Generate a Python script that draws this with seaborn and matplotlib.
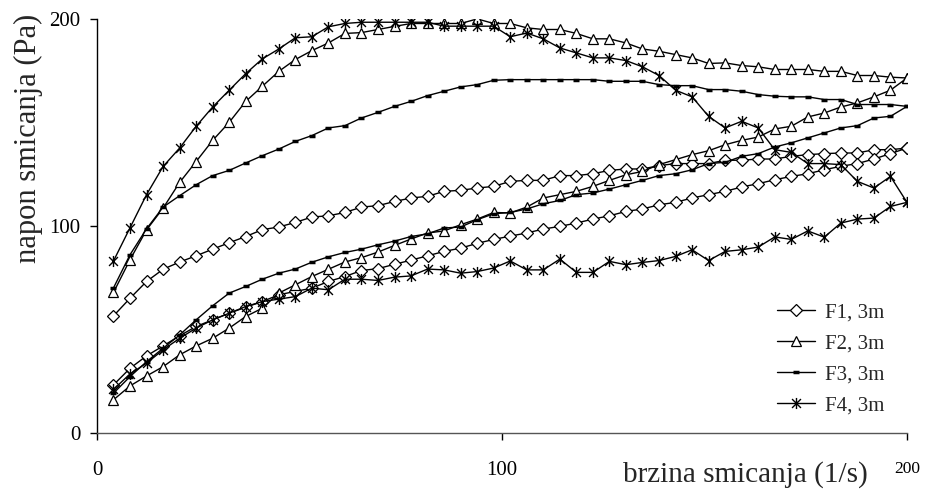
import pandas as pd
import matplotlib
matplotlib.use('Agg')
import matplotlib.pyplot as plt
from matplotlib.path import Path
import seaborn as sns

# shear rate steps of the rheometer (1/s)
shear_rate = [4.08, 8.16, 12.24, 16.33, 20.41, 24.49, 28.57, 32.65, 36.73, 40.82,
              44.90, 48.98, 53.06, 57.14, 61.22, 65.31, 69.39, 73.47, 77.55, 81.63,
              85.71, 89.80, 93.88, 97.96, 102.04, 106.12, 110.20, 114.29, 118.37, 122.45,
              126.53, 130.61, 134.69, 138.78, 142.86, 146.94, 151.02, 155.10, 159.18, 163.27,
              167.35, 171.43, 175.51, 179.59, 183.67, 187.76, 191.84, 195.92, 200.0]

# shear stress (Pa), upper branch and lower branch, both listed by increasing shear rate
f1_up = [56.5, 65, 73.1, 79, 82.5, 85.5, 88.7, 91.8, 94.8, 98.1,
         99.4, 101.6, 104.2, 104.8, 106.4, 109, 109.7, 111.7, 113.4, 114.2,
         116.6, 117.1, 118.2, 119, 121.4, 121.9, 121.9, 124.2, 124.2, 125.1,
         126.7, 127.4, 127.4, 129, 130, 130, 130, 131.6, 131.6, 132.2,
         132.2, 133.5, 134.3, 134.8, 135.1, 135.1, 136.7, 136.7, 137.5]
f1_down = [23.2, 31.2, 37.2, 42, 46.9, 51.4, 54.6, 57.8, 60.7, 63.4,
           66.7, 68.3, 69.9, 73.1, 75.5, 78.4, 79.3, 81.4, 83.4, 85.5,
           87.6, 89.2, 91.5, 93.4, 95, 96.5, 98.4, 99.7, 101.3, 103.2,
           104.8, 106.9, 108.1, 110.1, 111.3, 113.4, 115, 116.6, 118.7, 120.3,
           122.2, 123.8, 125.1, 127, 128.7, 130, 132.2, 134.8, 137.5]

f2_up = [67.8, 83.6, 98, 108.5, 120.9, 131, 141.2, 149.9, 160, 167.3,
         174.5, 180.2, 184.5, 188.2, 192.8, 193.2, 194.7, 196.2, 197.6, 197.6,
         197.6, 197.6, 199.8, 197.6, 197.6, 195.5, 194.7, 194.7, 192.8, 190.2,
         190.2, 188.2, 185.3, 184.2, 182.6, 181, 178.3, 178.6, 177.3, 176.7,
         175.4, 175.4, 175.4, 174.5, 174.5, 172.5, 172.5, 171.7, 171.3]
f2_down = [16, 22.7, 27.5, 32, 37.7, 42, 45.7, 50.6, 56.2, 60.2,
           67.5, 71.5, 75.5, 79, 82.5, 84.6, 87.3, 90.5, 93.6, 96.5,
           97.5, 100.5, 103.2, 106.4, 106.2, 109, 113.4, 115, 116.6, 119,
           121.9, 124.6, 126.2, 129.5, 131.9, 134.3, 136.2, 139.1, 141.2, 142.8,
           146.7, 148, 152.5, 154.4, 157.3, 159.3, 162.2, 165.4, 171.3]

f3_up = [70, 86, 98.5, 109, 114.5, 119.8, 124.2, 126.7, 130.3, 133.8,
         137, 140.7, 143.5, 147.2, 148.3, 152, 154.7, 157.6, 160, 162.8,
         164.9, 167, 168.1, 170.2, 170.5, 170.5, 170.5, 170.5, 170.5, 170.5,
         169.7, 169.7, 169.7, 168.1, 167.6, 167.6, 165.7, 165.7, 164.9, 163.3,
         162.5, 162.2, 162.2, 160.9, 160.9, 158.5, 158.5, 158.5, 157.6]
f3_down = [19.2, 27.2, 34.4, 40.9, 47.3, 54.6, 61.4, 67.5, 70.7, 74.2,
           77.1, 79.1, 82.4, 85, 87.1, 88.7, 90.8, 92.6, 94.8, 96.1,
           98.9, 99.4, 102.9, 105.8, 106.4, 108.1, 110.6, 112.2, 115, 115.8,
           117.7, 119.8, 121.9, 124.2, 125.1, 127, 130, 130.6, 133.5, 134.8,
           138, 140, 142.4, 144.8, 147.2, 148.3, 152, 152.8, 157.6]

f4_up = [83, 99, 115, 128.6, 137.5, 148, 157.3, 165.4, 173.4, 180.5,
         185.3, 190.7, 191.2, 196, 197.6, 198.2, 198.2, 198.2, 198.2, 198.2,
         196.3, 196.3, 196.3, 196.3, 191.2, 193, 190.2, 185.8, 183.4, 181,
         181, 179.7, 176.7, 172.5, 165.4, 162.2, 152.8, 147.2, 150.4, 147.2,
         136.7, 135.4, 130, 130, 129.5, 121.4, 118.2, 123.8, 111.3]
f4_down = [21, 28.5, 33.7, 40.1, 45.7, 50.6, 54.6, 57.8, 61, 63.4,
           64.6, 65.8, 69.9, 69.1, 74.2, 74.2, 73.6, 75.2, 75.8, 79.1,
           78.7, 77.1, 77.9, 79.6, 83, 78.7, 78.7, 83.9, 77.5, 77.5,
           82.8, 81.2, 82.3, 83.2, 85.2, 88.4, 83.2, 87.6, 88.4, 89.7,
           94.6, 93.4, 97.5, 94.5, 101.3, 103.2, 103.7, 109.3, 111.3]

labels = ['F1, 3m', 'F2, 3m', 'F3, 3m', 'F4, 3m']

sns.set_theme(style='ticks')
plt.rcParams['font.family'] = ['Liberation Serif', 'DejaVu Serif']

# Excel-like asterisk: X plus a vertical bar
star = Path([(0, -1), (0, 1), (-0.8, -0.8), (0.8, 0.8), (-0.8, 0.8), (0.8, -0.8)],
            [Path.MOVETO, Path.LINETO, Path.MOVETO, Path.LINETO, Path.MOVETO, Path.LINETO])

styles = [
    dict(marker='D', markersize=5.8, markerfacecolor='white', markeredgecolor='black', markeredgewidth=0.9),
    dict(marker='^', markersize=7.5, markerfacecolor='white', markeredgecolor='black', markeredgewidth=0.9),
    dict(marker='_', markersize=4.5, markeredgecolor='black', markeredgewidth=2.5),
    dict(marker=star, markersize=8, markeredgecolor='black', markeredgewidth=1.0),
]

fig = plt.figure(figsize=(9.27, 4.95), dpi=100)
ax = fig.add_axes([0.1046, 0.1253, 0.8738, 0.8373])

series = [(f1_up, f1_down), (f2_up, f2_down), (f3_up, f3_down), (f4_up, f4_down)]
for (up, down), lab, st in zip(series, labels, styles):
    # go up the upper branch, then back down the lower branch
    df = pd.DataFrame({
        'rate': shear_rate + shear_rate[::-1],
        'stress': up + down[::-1],
    })
    sns.lineplot(data=df, x='rate', y='stress', sort=False, estimator=None,
                 color='black', linewidth=1.0, label=lab, ax=ax, **st)

ax.set_xlim(0, 200)
ax.set_ylim(0, 200)
ax.set_xticks([0, 100, 200])
ax.set_yticks([0, 100, 200])
sns.despine(ax=ax)
ax.spines['left'].set_color('black')
ax.spines['bottom'].set_color('#555555')
ax.spines['left'].set_linewidth(1.0)
ax.spines['bottom'].set_linewidth(1.0)
ax.tick_params(axis='y', direction='out', length=5, width=1, pad=7, labelsize=15, colors='black')
ax.tick_params(axis='x', direction='out', length=5, width=1, pad=15, labelsize=15, colors='black')
ax.get_xticklabels()[-1].set_fontsize(12.5)

ax.set_xlabel('brzina smicanja (1/s)', fontsize=21)
ax.set_ylabel('napon smicanja (Pa)', fontsize=22)
ax.xaxis.set_label_coords(0.801, -0.068)
ax.yaxis.set_label_coords(-0.067, 0.71)

ax.legend(loc='center', bbox_to_anchor=(0.906, 0.178), frameon=False, fontsize=15,
          handlelength=1.8, handletextpad=0.5, labelspacing=0.55)

fig.savefig('out.png', dpi=100)
